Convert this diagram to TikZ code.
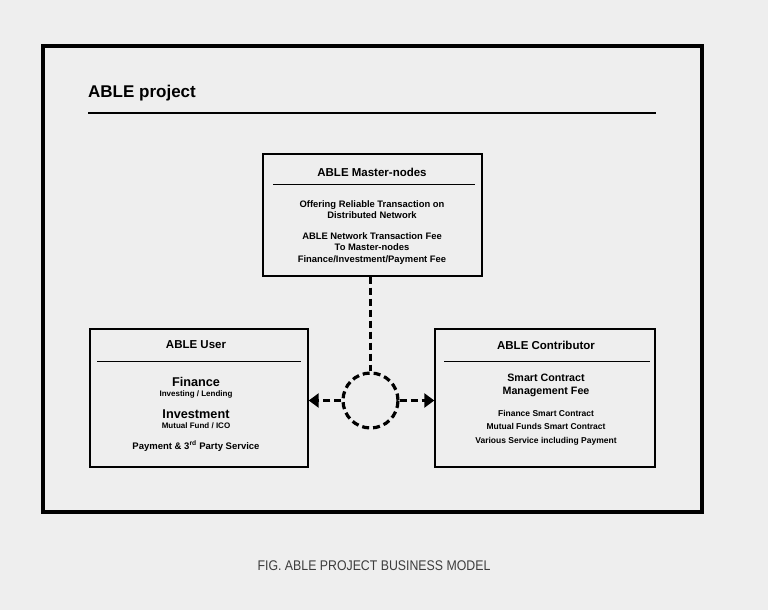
\documentclass[tikz,border=0pt]{standalone}
\usepackage{fontspec}
\setmainfont{Liberation Sans}
\newfontfamily\capfont[FakeStretch=0.88]{Liberation Sans}
\usetikzlibrary{arrows.meta,positioning}
\definecolor{paper}{HTML}{EEEEEE}
\definecolor{capgray}{HTML}{3C3C3C}

\begin{document}
\begin{tikzpicture}[x=1pt, y=-1pt,
  rolebox/.style={draw, line width=1.4pt, inner sep=0pt},
  boxtitle/.style={font=\bfseries\fontsize{11.5}{13}\selectfont, inner sep=0pt},
  boxtext/.style={font=\bfseries\fontsize{9.4}{11.3}\selectfont, align=center, inner sep=0pt},
  link/.style={line width=3.2pt, dash pattern=on 7pt off 4pt}]
\fill[paper] (0,0) rectangle (768,610);
\useasboundingbox (0,0) rectangle (768,610);

% outer frame and heading
\draw[line width=3.2pt] (43,46) rectangle (702,512);
\node[anchor=west, font=\bfseries\fontsize{17}{20}\selectfont, inner sep=0pt] (title) at (88,93) {ABLE project};
\draw[line width=2.4pt] (88,113) -- (656,113);

% master-nodes box
\node[rolebox, minimum width=219pt, minimum height=122pt] (master) at (372.5,215) {};
\node[boxtitle] (mastertitle) at (372,172) {ABLE Master-nodes};
\draw[line width=0.9pt] (273,184) -- (475,184);
\node[boxtext] (masteroffer) at (372,209.5) {Offering Reliable Transaction on\\Distributed Network};
\node[boxtext] (masterfee) at (372,248.5) {ABLE Network Transaction Fee\\To Master-nodes\\Finance/Investment/Payment Fee};

% user box
\node[rolebox, minimum width=218pt, minimum height=138pt] (user) at (199,398) {};
\node[boxtitle] (usertitle) at (196,345) {ABLE User};
\draw[line width=0.9pt] (97,361) -- (301,361);
\node[font=\bfseries\fontsize{12.7}{14}\selectfont, inner sep=0pt] (finance) at (196,382) {Finance};
\node[font=\bfseries\fontsize{8}{9}\selectfont, inner sep=0pt] (lending) at (196,394) {Investing / Lending};
\node[font=\bfseries\fontsize{12.7}{14}\selectfont, inner sep=0pt] (invest) at (196,414) {Investment};
\node[font=\bfseries\fontsize{8}{9}\selectfont, inner sep=0pt] (fund) at (196,426) {Mutual Fund / ICO};
\node[font=\bfseries\fontsize{9.5}{11}\selectfont, inner sep=0pt] (payment) at (196,446) {Payment \& 3\textsuperscript{rd} Party Service};

% contributor box
\node[rolebox, minimum width=220pt, minimum height=138pt] (contrib) at (545,398) {};
\node[boxtitle] (contribtitle) at (546,345) {ABLE Contributor};
\draw[line width=0.9pt] (444,361) -- (650,361);
\node[font=\bfseries\fontsize{10.7}{13}\selectfont, align=center, inner sep=0pt] (mgmtfee) at (546,385.5) {Smart Contract\\Management Fee};
\node[font=\bfseries\fontsize{8.5}{13.5}\selectfont, align=center, inner sep=0pt] (contracts) at (546,427.5) {Finance Smart Contract\\Mutual Funds Smart Contract\\Various Service including Payment};

% dashed hub and links
\node[draw, circle, link, minimum size=55pt, inner sep=0pt] (hub) at (370.5,400.5) {};
\draw[link] (hub.north |- master.south) -- (hub.north);
\draw[link, -{Triangle[length=10pt,width=14pt]}] (hub.west) -- (hub.west -| user.east);
\draw[link, -{Triangle[length=10pt,width=14pt]}] (hub.east) -- (hub.east -| contrib.west);

% caption
\node[font=\capfont\fontsize{14}{16}\selectfont, text=capgray, inner sep=0pt] (caption) at (374,566) {FIG. ABLE PROJECT BUSINESS MODEL};
\end{tikzpicture}
\end{document}
